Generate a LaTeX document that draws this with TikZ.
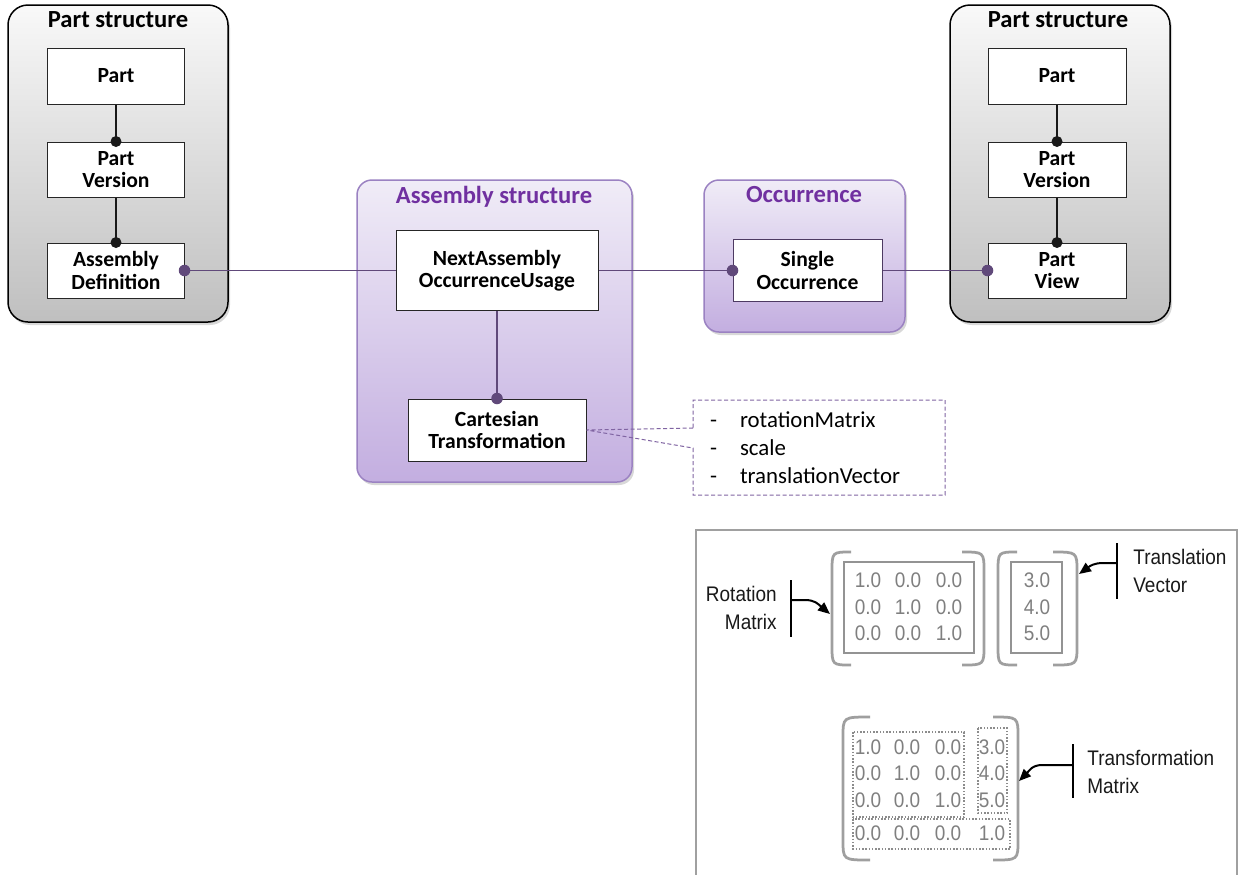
\documentclass[tikz,border=0pt]{standalone}
\usepackage{fontspec}
\setmainfont{Carlito}
\newfontfamily\narrowfont[FakeStretch=0.9]{Liberation Sans}
\usetikzlibrary{arrows.meta,shapes.callouts,shadows}
\definecolor{plum}{HTML}{60497A}
\definecolor{violettitle}{HTML}{7030A0}
\definecolor{lilactop}{HTML}{F0ECF7}
\definecolor{lilacbottom}{HTML}{C3AEE0}
\definecolor{lilacedge}{HTML}{9B82C2}
\definecolor{notedash}{HTML}{8064A2}
\definecolor{panelgray}{HTML}{A0A0A0}
\definecolor{numgray}{HTML}{7F7F7F}
\tikzset{
  partframe/.style={draw=black,line width=0.3mm,rounded corners=4mm,top color=gray!5,bottom color=gray!50,
    drop shadow={opacity=0.3,shadow xshift=0.4mm,shadow yshift=-0.6mm}},
  purpleframe/.style={draw=lilacedge,line width=0.3mm,rounded corners=3mm,top color=lilactop,bottom color=lilacbottom,
    drop shadow={opacity=0.3,shadow xshift=0.4mm,shadow yshift=-0.6mm}},
  entity/.style={draw=black!85,fill=white,line width=0.2mm,align=center,inner sep=0pt,
    font=\fontsize{12.3}{12.8}\selectfont\bfseries},
  frametitle/.style={font=\fontsize{14}{16}\selectfont\bfseries},
  blink/.style={draw=black!90,line width=0.25mm},
  plink/.style={draw=plum,line width=0.25mm},
  notebox/.style={rectangle callout,draw=notedash,line width=0.2mm,dash pattern=on 0.8mm off 0.5mm,
    minimum width=50.4mm,minimum height=19mm,text width=43.6mm,inner xsep=3.4mm,align=left,
    font=\fontsize{13}{16}\selectfont},
  paren/.style={draw=gray!75,line width=0.55mm},
  solidbox/.style={draw=gray!85,line width=0.35mm},
  dotbox/.style={draw=gray!90,line width=0.25mm,dash pattern=on 0.3mm off 0.35mm},
  num/.style={font=\fontsize{12}{14}\narrowfont,text=numgray,inner sep=0pt},
  lab/.style={font=\fontsize{12}{15.6}\narrowfont,text=black!90,inner sep=0pt},
  bar/.style={draw=black,line width=0.45mm},
  pointer/.style={draw=black,line width=0.4mm,-{Triangle[length=2.4mm,width=2mm]}}
}
\begin{document}
\begin{tikzpicture}[x=0.2mm,y=-0.2mm]
  \useasboundingbox[fill=white] (0,0) rectangle (1239,874);

  % frames
  \path[partframe] (8,5) rectangle (228,322);
  \path[partframe] (950,5) rectangle (1170,322);
  \path[purpleframe] (357,180) rectangle (632,482);
  \path[purpleframe] (704,180) rectangle (905,332);

  \node[frametitle] (titleL) at (118,20) {Part structure};
  \node[frametitle] (titleR) at (1058,20) {Part structure};
  \node[frametitle,text=violettitle] (titleA) at (494,197) {Assembly structure};
  \node[frametitle,text=violettitle] (titleO) at (804,195) {Occurrence};

  % entities
  \node[entity,minimum width=27.2mm,minimum height=11.2mm] (partL) at (116,76) {Part};
  \node[entity,minimum width=27.2mm,minimum height=11mm] (verL) at (116,169.5) {Part\\Version};
  \node[entity,minimum width=27.2mm,minimum height=11mm] (defL) at (116,270.5) {Assembly\\Definition};
  \node[entity,minimum width=27.6mm,minimum height=11.2mm] (partR) at (1057,76) {Part};
  \node[entity,minimum width=27.6mm,minimum height=11mm] (verR) at (1057,169.5) {Part\\Version};
  \node[entity,minimum width=27.6mm,minimum height=11mm] (viewR) at (1057,270.5) {Part\\View};
  \node[entity,minimum width=40.4mm,minimum height=16mm] (nauo) at (497,270.5) {NextAssembly\\OccurrenceUsage};
  \node[entity,minimum width=35.6mm,minimum height=12.4mm] (cart) at (497,430) {Cartesian\\Transformation};
  \node[entity,draw=plum!80!black,minimum width=29.8mm,minimum height=12.4mm] (single) at (807.5,270.5) {Single\\Occurrence};

  % links
  \draw[blink] (partL) -- (verL);
  \draw[blink] (verL) -- (defL);
  \draw[blink] (partR) -- (verR);
  \draw[blink] (verR) -- (viewR);
  \foreach \n in {verL,defL,verR,viewR}
    \fill[black!90] (\n.north) circle (1.1mm);
  \draw[plink] (defL) -- (nauo);
  \draw[plink] (nauo) -- (single);
  \draw[plink] (single) -- (viewR);
  \draw[plink] (nauo) -- (cart);
  \foreach \a in {defL.east,single.west,viewR.west,cart.north}
    \fill[plum] (\a) circle (1.15mm);

  % attribute note
  \node[notebox,callout absolute pointer={(cart.east)},callout pointer width=4mm] (attrs) at (819,447.5)
    {\makebox[6mm][l]{-}rotationMatrix\\\makebox[6mm][l]{-}scale\\\makebox[6mm][l]{-}translationVector};

  % matrix panel
  \draw[panelgray,line width=0.4mm] (696,880) -- (696,530) -- (1237,530) -- (1237,880);
  \foreach \xa/\xb/\ya/\yb in {832/851/552/665,984/962/552/665,998/1017/552/665,1077/1053/552/665,843/870/717/860,1018/993/717/860}
    \draw[paren] (\xb,\ya) .. controls (\xa,\ya) and (\xa,\ya) .. (\xa,\ya+20) -- (\xa,\yb-20) .. controls (\xa,\yb) and (\xa,\yb) .. (\xb,\yb);
  \draw[solidbox] (844,562) rectangle (974,653);
  \draw[solidbox] (1011,562) rectangle (1062,653);
  \draw[dotbox] (853,732) rectangle (964,817);
  \draw[dotbox] (978,728) rectangle (1007,813);
  \draw[dotbox] (853,819) rectangle (1010,849);

  \foreach \y/\a/\b/\c/\t in {580/1.0/0.0/0.0/3.0,607/0.0/1.0/0.0/4.0,633/0.0/0.0/1.0/5.0} {
    \node[num] (rm-\y-1) at (868,\y) {\a};
    \node[num] (rm-\y-2) at (908,\y) {\b};
    \node[num] (rm-\y-3) at (949,\y) {\c};
    \node[num] (tv-\y) at (1037,\y) {\t};
  }
  \foreach \y/\a/\b/\c/\d in {747/1.0/0.0/0.0/3.0,773/0.0/1.0/0.0/4.0,800/0.0/0.0/1.0/5.0,833/0.0/0.0/0.0/1.0} {
    \node[num] (tm-\y-1) at (868,\y) {\a};
    \node[num] (tm-\y-2) at (907,\y) {\b};
    \node[num] (tm-\y-3) at (948,\y) {\c};
    \node[num] (tm-\y-4) at (992,\y) {\d};
  }

  % labels and pointers
  \node[lab,anchor=east,align=right] (rotlab) at (777,608) {Rotation\\Matrix};
  \node[lab,anchor=west,align=left] (translab) at (1133,571) {Translation\\Vector};
  \node[lab,anchor=west,align=left] (tmlab) at (1087,772) {Transformation\\Matrix};
  \draw[bar] (791,580) -- (791,637);
  \draw[bar] (1117,543) -- (1117,599);
  \draw[bar] (1073,744) -- (1073,798);
  \coordinate (rotfrom) at (791,600);
  \coordinate (rottip) at (830,614);
  \coordinate (transfrom) at (1117,563);
  \coordinate (transtip) at (1079,574);
  \coordinate (tmfrom) at (1073,765);
  \coordinate (tmtip) at (1019,781);
  \draw[pointer] (rotfrom) -- (805,600) .. controls (815,600) and (818,604) .. (rottip);
  \draw[pointer] (transfrom) -- (1103,563) .. controls (1094,563) and (1090,566) .. (transtip);
  \draw[pointer] (tmfrom) -- (1042,765) .. controls (1032,765) and (1029,771) .. (tmtip);
\end{tikzpicture}
\end{document}
